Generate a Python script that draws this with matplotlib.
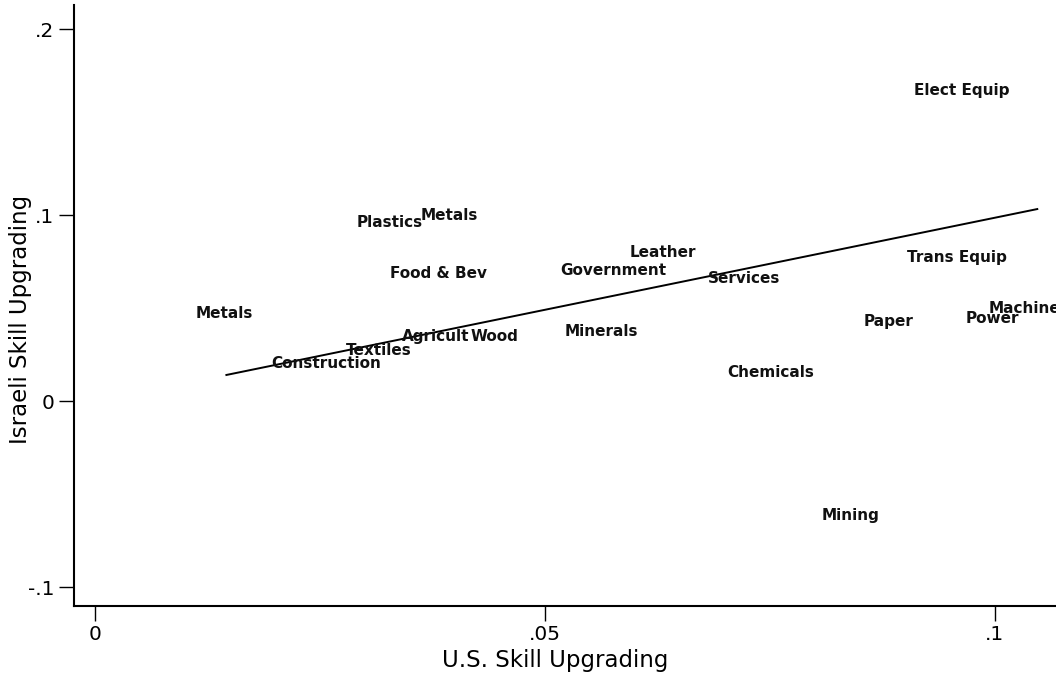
import matplotlib
matplotlib.use("Agg")
import matplotlib.pyplot as plt

# industry labels (left edge of each label at the point)
industries = [
    "Elect Equip", "Plastics", "Metals", "Leather", "Government", "Food & Bev",
    "Trans Equip", "Services", "Metals", "Machine", "Power", "Paper",
    "Minerals", "Agricult", "Wood", "Textiles", "Construction", "Chemicals",
    "Mining",
]
us_upgrading = [
    0.0910, 0.0291, 0.0362, 0.0594, 0.0517, 0.0328,
    0.0902, 0.0681, 0.0112, 0.0993, 0.0967, 0.0854,
    0.0522, 0.0341, 0.0417, 0.0279, 0.0196, 0.0703,
    0.0807,
]
israel_upgrading = [
    0.1672, 0.0962, 0.1000, 0.0801, 0.0704, 0.0688,
    0.0774, 0.0656, 0.0468, 0.0500, 0.0446, 0.0425,
    0.0376, 0.0349, 0.0349, 0.0269, 0.0199, 0.0151,
    -0.0618,
]

# fitted line
fit_x = [0.0146, 0.1047]
fit_y = [0.0140, 0.1032]

plt.rcParams["font.family"] = ["DejaVu Sans"]

fig = plt.figure(figsize=(10.56, 6.77), dpi=100)
ax = fig.add_axes([0.0701, 0.1049, 0.9299, 0.8877])

ax.plot(fit_x, fit_y, color="black", linewidth=1.4)

for name, x, y in zip(industries, us_upgrading, israel_upgrading):
    ax.text(x, y, name, fontsize=11, fontweight="bold", ha="left",
            va="center", color="#111111", clip_on=True)

ax.set_xlim(-0.00233, 0.10678)
ax.set_ylim(-0.1102, 0.2129)

ax.set_xticks([0, 0.05, 0.1])
ax.set_xticklabels(["0", ".05", ".1"])
ax.set_yticks([-0.1, 0, 0.1, 0.2])
ax.set_yticklabels(["-.1", "0", ".1", ".2"])

for side in ["top", "right"]:
    ax.spines[side].set_visible(False)
ax.spines["left"].set_linewidth(1.5)
ax.spines["bottom"].set_linewidth(1.5)
ax.tick_params(axis="both", direction="out", length=11, width=1.0,
               labelsize=14.5, pad=3)

ax.set_xlabel("U.S. Skill Upgrading", fontsize=16.5, va="center")
ax.set_ylabel("Israeli Skill Upgrading", fontsize=16.5, va="center")
ax.xaxis.set_label_coords(0.49, -0.09)
ax.yaxis.set_label_coords(-0.054, 0.476)

fig.savefig("out.png", dpi=100)
